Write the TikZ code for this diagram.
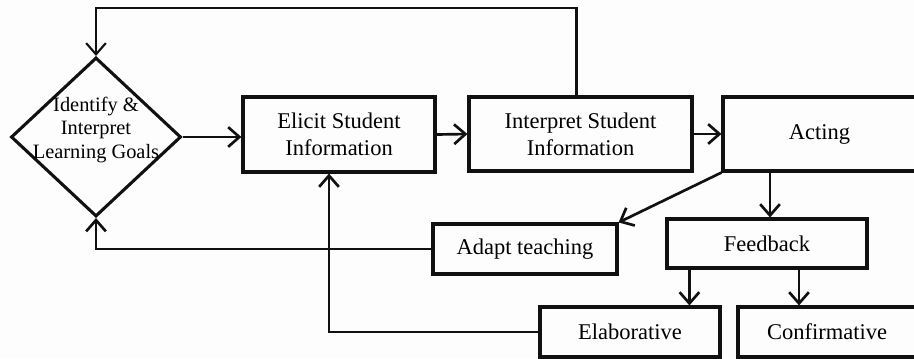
\documentclass[tikz,border=0pt]{standalone}
\usepackage{fontspec}
\setmainfont{Liberation Serif}
\usetikzlibrary{arrows.meta,shapes.geometric,positioning}
\definecolor{paper}{HTML}{fdfdfd}
\definecolor{ink}{HTML}{111111}

\begin{document}
\begin{tikzpicture}[x=0.025cm, y=-0.025cm, >={Straight Barb[length=8pt,width=14pt]},
  box/.style={draw=ink, line width=2.2pt, align=center, inner sep=2pt, font=\fontsize{16}{19}\selectfont},
  arr/.style={->, draw=ink, line width=1.9pt}]
\fill[paper] (0,0) rectangle (914,358);
\useasboundingbox (0,0) rectangle (914,358);
% goals diamond, text set on top of it
\node[diamond, draw=ink, line width=2.2pt, inner sep=0pt, minimum width=4.25cm, minimum height=3.975cm] (goals) at (96,137) {};
\node[align=center, font=\fontsize{14.5}{16.5}\selectfont, inner sep=0pt] (goalstext) at (96,130) {Identify \&\\ Interpret\\ Learning Goals};
% main row
\node[box, minimum width=4.8cm, minimum height=1.875cm] (elicit) at (339,134.5) {Elicit Student\\ Information};
\node[box, minimum width=5.575cm, minimum height=1.85cm] (interpret) at (580.5,134) {Interpret Student\\ Information};
\node[box, minimum width=4.825cm, minimum height=1.85cm] (acting) at (819.5,134) {Acting};
% lower boxes
\node[box, minimum width=4.6cm, minimum height=1.25cm] (adapt) at (525,249) {Adapt teaching};
\node[box, minimum width=5cm, minimum height=1.225cm] (feedback) at (767,243.5) {Feedback};
\node[box, minimum width=4.5cm, minimum height=1.25cm] (elaborative) at (630,332) {Elaborative};
\node[box, minimum width=4.45cm, minimum height=1.25cm] (confirmative) at (827,332) {Confirmative};
\coordinate (loop) at (96,8);
% connectors
\draw[arr] (goals.east) -- (goals.east -| elicit.west);
\draw[arr] (elicit.east) -- (interpret.west);
\draw[arr] (interpret.east) -- (acting.west);
\draw[arr, line width=1.5pt] ([xshift=-0.1cm]interpret.north) |- (loop) -- (goals.north);
\draw[arr] (acting.south west) -- (adapt.north east);
\draw[arr] (adapt.west) -| (goals.south);
\draw[arr] ([xshift=0.075cm]feedback.north |- acting.south) -- ([xshift=0.075cm]feedback.north);
\draw[arr] ([xshift=0.6cm]feedback.south west) -- ([xshift=0.6cm]feedback.south west |- elaborative.north);
\draw[arr] ([xshift=0.8cm]feedback.south) -- ([xshift=0.8cm]feedback.south |- confirmative.north);
\draw[arr] (elaborative.west) -| ([xshift=-0.25cm]elicit.south);
\end{tikzpicture}
\end{document}
